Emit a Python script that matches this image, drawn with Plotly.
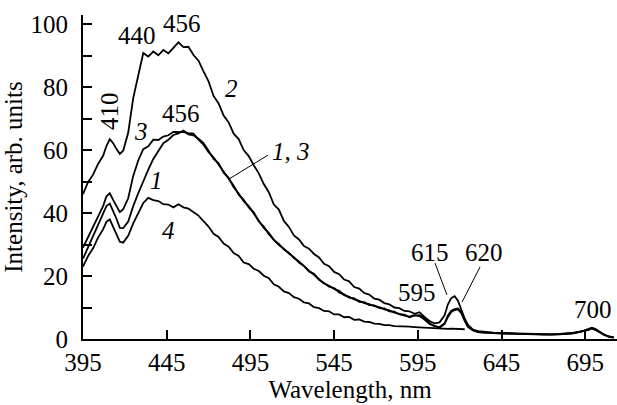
import plotly.graph_objects as go

# ---------------- data ----------------
wl = [395, 398, 401, 404, 407, 409, 411, 413, 415, 417, 419, 422, 425, 428, 431, 434, 437, 440,
      443, 446, 449, 452, 455, 458, 461, 464, 467, 470, 473, 476, 479, 482, 485, 488, 491, 494,
      497, 500, 503, 506, 509, 512, 515, 518, 521, 524, 527, 530, 533, 536, 539, 542, 545, 548,
      551, 554, 557, 560, 563, 566, 569, 572, 575, 578, 581, 584, 587, 590, 593, 596, 599, 602,
      605, 608, 611, 613, 615, 617, 619, 621, 623, 625, 628, 631, 634, 637, 640, 645, 650, 655,
      660, 665, 670, 675, 680, 685, 688, 691, 694, 697, 699, 701, 703, 706, 709, 712]

curve2 = [46, 49.8, 52.2, 55.6, 58.2, 61.3, 63.5, 62.2, 60.3, 58.8, 59.8, 65.5, 76.5, 83.5, 90.8, 89.7, 91.3, 90.1,
          91.8, 90.7, 92.3, 94.2, 92.7, 92.8, 90.2, 88.4, 85, 81.8, 77.2, 74.8, 71, 68.8, 65.2, 63.5, 60, 58.1,
          55.2, 52.6, 49.2, 46.6, 42.7, 41.1, 37.5, 35.6, 32.9, 31.6, 29.5, 28.7, 27, 25.9, 23.9, 23.1, 21.3, 20.6,
          18.9, 18.3, 16.5, 16, 14.6, 14.1, 12.8, 12.5, 11.4, 11, 10, 9.8, 8.9, 8.8, 8, 8.5, 7, 5.7,
          5, 5.3, 7.5, 11, 13, 13.6, 12.2, 9.5, 6.5, 4.5, 3, 2.5, 2.3, 2.1, 2, 1.9, 1.8, 1.7,
          1.6, 1.7, 1.5, 1.5, 1.6, 1.8, 2, 2.3, 2.6, 3.2, 3.6, 3.2, 2.5, 1.5, 0.8, 0.5]

curve3 = [29, 32.3, 35.2, 38.8, 42.2, 45.3, 46.3, 44.2, 42.3, 40.3, 41.2, 44.7, 51.8, 56.7, 60.3, 61.2, 63.3, 63.2,
          64.3, 64.7, 65.8, 65.8, 65.7, 65.4, 65.2, 63.3, 61.7, 59.3, 57.7, 55.4, 53.2, 50.8, 48.7, 45.8, 44.2, 41.8,
          40.2, 37.3, 35.7, 33.3, 31.7, 29.8, 28.7, 27.1, 26, 24.3, 23.2, 21.4, 20.7, 18.8, 17.8, 16.6, 16.2, 14.8,
          14.2, 13.1, 12.9, 11.8, 11.7, 10.8, 10.7, 9.8, 9.7, 8.8, 8.7, 7.8, 7.7, 6.9, 7.4, 7.6, 6.5, 5,
          4, 3.8, 5, 7.5, 9, 9.5, 9.7, 8.5, 6, 4, 2.8, 2.3, 2.1, 2, 1.9, 1.8, 1.7, 1.6,
          1.6, 1.5, 1.5, 1.4, 1.5, 1.7, 1.9, 2.2, 2.5, 3, 3.3, 3, 2.4, 1.4, 0.8, 0.5]

curve1 = [25.5, 29.2, 32.3, 36.2, 39.8, 42.2, 43, 40.8, 38.2, 35.3, 35.2, 37.3, 42.2, 46.3, 50.2, 53.8, 57.2, 59.8,
          62.2, 63.3, 64.8, 65.3, 66.2, 65, 64.7, 63.6, 62.2, 59.8, 57.2, 55.8, 52.8, 51.2, 48.2, 46.2, 43.8, 42.2,
          39.8, 37.7, 35.3, 33.7, 31.4, 30.2, 28.4, 27.4, 25.7, 24.6, 23, 21.7, 20.4, 19.1, 17.6, 16.9, 15.9, 15.3,
          13.9, 13.4, 12.6, 12.1, 11.4, 11.1, 10.4, 10.1, 9.4, 9.1, 8.4, 8, 7.4, 7.1, 7.6, 7.3, 6.2, 4.8,
          4.2, 3.6, 4.8, 7, 8.6, 9.2, 9.4, 8.2, 5.8, 3.8, 2.7, 2.2, 2, 1.9, 1.8, 1.7, 1.7, 1.6,
          1.5, 1.5, 1.4, 1.5, 1.5, 1.6, 1.8, 2.1, 2.4, 2.9, 3.4, 2.9, 2.3, 1.4, 0.7, 0.4]

wl4 = [395, 398, 401, 404, 407, 409, 411, 413, 415, 417, 419, 422, 425, 428, 431, 434, 437, 440,
       443, 446, 449, 452, 455, 458, 461, 464, 467, 470, 473, 476, 479, 482, 485, 488, 491, 494,
       497, 500, 503, 506, 509, 512, 515, 518, 521, 524, 527, 530, 533, 536, 539, 542, 545, 548,
       551, 554, 557, 560, 563, 566, 569, 572, 575, 578, 581, 584, 587, 590, 593, 596, 599, 602,
       605, 608, 611, 613, 615, 617, 619, 621, 623]

curve4 = [23, 26.3, 28.8, 32.2, 34.8, 37.2, 38, 35.8, 33.6, 30.9, 30.6, 32.8, 36.7, 39.8, 43.2, 44.8, 44.1, 43.8,
          42.8, 42.7, 41.8, 42.8, 41.8, 41.4, 40.4, 39.2, 37.4, 35.7, 33.4, 32.4, 30.3, 29.3, 27.3, 26.4, 24.3, 23.8,
          22.3, 21.6, 20.1, 19.3, 17.4, 16.6, 15.1, 14.6, 13.3, 12.8, 11.6, 11.3, 10.1, 9.8, 8.9, 8.8, 7.8, 7.8,
          6.9, 7, 6.1, 6.2, 5.5, 5.4, 4.9, 4.8, 4.4, 4.4, 4.1, 4.1, 4, 3.9, 3.8, 3.7, 3.6, 3.5,
          3.4, 3.4, 3.3, 3.2, 3.3, 3.2, 3.2, 3.1, 3.1]

x_ticks = [395, 445, 495, 545, 595, 645, 695]
x_ticklabels = ["395", "445", "495", "545", "595", "645", "695"]
y_ticks = [0, 10, 20, 30, 40, 50, 60, 70, 80, 90, 100]
y_ticklabels = ["0", "", "20", "", "40", "", "60", "", "80", "", "100"]

FONT = "Liberation Serif, Times New Roman, serif"
FS = 25

fig = go.Figure()
for ys, xs in [(curve2, wl), (curve3, wl), (curve1, wl), (curve4, wl4)]:
    fig.add_trace(go.Scatter(x=xs, y=ys, mode="lines",
                             line=dict(color="black", width=1.8), showlegend=False,
                             hoverinfo="skip"))

anns = [
    ("440", 427.3, 96.5, False, 0),
    ("456", 454.1, 100.3, False, 0),
    ("410", 410.5, 72.4, False, -90),
    ("456", 453.5, 71.7, False, 0),
    ("3", 429.6, 66.0, True, 0),
    ("1", 439.2, 50.2, True, 0),
    ("4", 445.8, 34.6, True, 0),
    ("2", 484.0, 79.7, True, 0),
    ("1, 3", 519.3, 59.4, True, 0),
    ("615", 602.3, 27.6, False, 0),
    ("620", 634.5, 27.6, False, 0),
    ("595", 594.5, 14.9, False, 0),
    ("700", 699.7, 9.5, False, 0),
]
for text, x, y, ital, ang in anns:
    fig.add_annotation(x=x, y=y, xref="x", yref="y",
                       text=("<i>%s</i>" % text) if ital else text,
                       showarrow=False, textangle=ang,
                       font=dict(family=FONT, size=FS, color="black"),
                       xanchor="center", yanchor="middle")

# leader lines
for x0, y0, x1, y1 in [(505.5, 58.4, 482.2, 50.8), (605.3, 24.1, 612.4, 14.0), (632.2, 22.9, 621.4, 11.7)]:
    fig.add_shape(type="line", x0=x0, y0=y0, x1=x1, y1=y1, xref="x", yref="y",
                  line=dict(color="black", width=1))

fig.update_layout(
    width=617, height=405,
    margin=dict(l=83, r=0, t=15, b=66),
    plot_bgcolor="white", paper_bgcolor="white",
    font=dict(family=FONT, size=FS, color="black"),
)
fig.update_xaxes(range=[395, 714], tickvals=x_ticks, ticktext=x_ticklabels,
                 ticks="inside", ticklen=9, tickwidth=1.5, tickcolor="black",
                 showline=True, linecolor="black", linewidth=2,
                 showgrid=False, zeroline=False, ticklabelstandoff=0,
                 title=dict(text="Wavelength, nm", standoff=2,
                            font=dict(family=FONT, size=FS)))
fig.update_yaxes(range=[0, 102.9], tickvals=y_ticks, ticktext=y_ticklabels,
                 ticks="inside", ticklen=9, tickwidth=1.5, tickcolor="black",
                 showline=True, linecolor="black", linewidth=2,
                 showgrid=False, zeroline=False, ticklabelstandoff=8,
                 title=dict(text="Intensity, arb. units", standoff=6,
                            font=dict(family=FONT, size=FS)))

fig.write_html("out.html", config={"displayModeBar": False},
               post_script="document.body.style.margin='0';document.body.style.overflow='hidden';")
